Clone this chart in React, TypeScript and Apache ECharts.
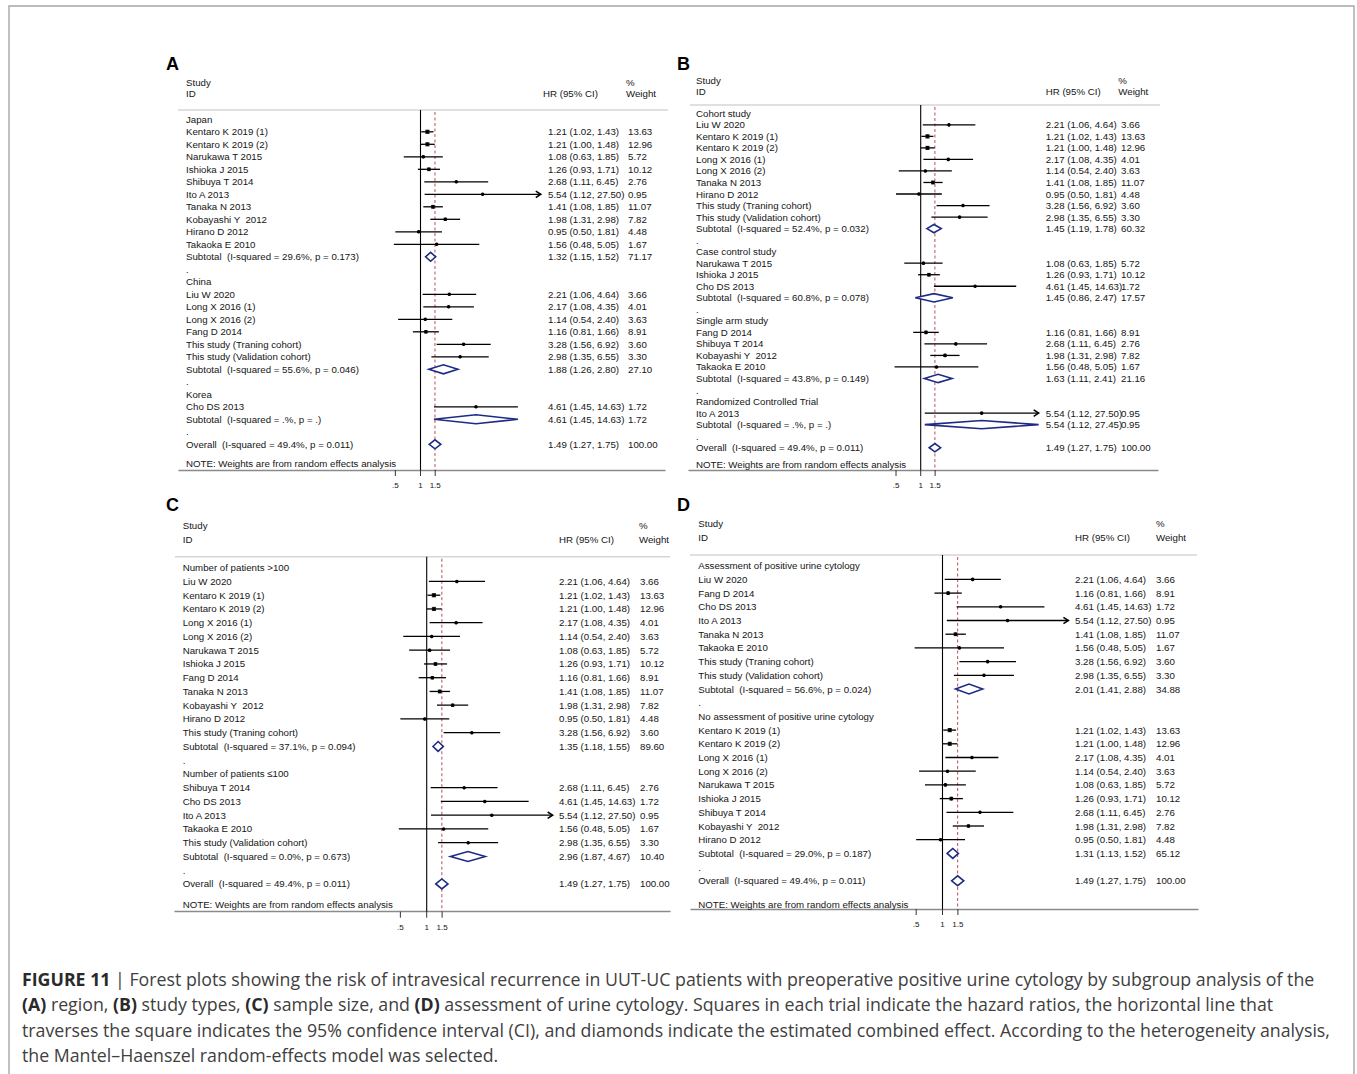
import React, { useEffect, useRef } from "react";
import * as echarts from "echarts";

// ---------------- DATA ----------------
const studyNames = [
  "Liu W 2020",
  "Kentaro K 2019 (1)",
  "Kentaro K 2019 (2)",
  "Long X 2016 (1)",
  "Long X 2016 (2)",
  "Narukawa T 2015",
  "Ishioka J 2015",
  "Fang D 2014",
  "Shibuya T 2014",
  "Cho DS 2013",
  "Ito A 2013",
  "Tanaka N 2013",
  "Kobayashi Y  2012",
  "Hirano D 2012",
  "Takaoka E 2010",
  "This study (Traning cohort)",
  "This study (Validation cohort)",
];
const hazardRatios = [2.21, 1.21, 1.21, 2.17, 1.14, 1.08, 1.26, 1.16, 2.68, 4.61, 5.54, 1.41, 1.98, 0.95, 1.56, 3.28, 2.98];
const lowerCI = [1.06, 1.02, 1.0, 1.08, 0.54, 0.63, 0.93, 0.81, 1.11, 1.45, 1.12, 1.08, 1.31, 0.5, 0.48, 1.56, 1.35];
const upperCI = [4.64, 1.43, 1.48, 4.35, 2.4, 1.85, 1.71, 1.66, 6.45, 14.63, 27.5, 1.85, 2.98, 1.81, 5.05, 6.92, 6.55];
const studyWeights = [3.66, 13.63, 12.96, 4.01, 3.63, 5.72, 10.12, 8.91, 2.76, 1.72, 0.95, 11.07, 7.82, 4.48, 1.67, 3.6, 3.3];

const overallHR = 1.49;
const overallLower = 1.27;
const overallUpper = 1.75;
const overallWeight = 100.0;
const overallISquared = "49.4";
const overallPValue = "0.011";

// Panel A: region
const regionGroups = ["Japan", "China", "Korea"];
const regionMembers = [
  ["Kentaro K 2019 (1)", "Kentaro K 2019 (2)", "Narukawa T 2015", "Ishioka J 2015", "Shibuya T 2014", "Ito A 2013", "Tanaka N 2013", "Kobayashi Y  2012", "Hirano D 2012", "Takaoka E 2010"],
  ["Liu W 2020", "Long X 2016 (1)", "Long X 2016 (2)", "Fang D 2014", "This study (Traning cohort)", "This study (Validation cohort)"],
  ["Cho DS 2013"],
];
const regionSubHR = [1.32, 1.88, 4.61];
const regionSubLower = [1.15, 1.26, 1.45];
const regionSubUpper = [1.52, 2.8, 14.63];
const regionSubWeight = [71.17, 27.1, 1.72];
const regionISquared = ["29.6", "55.6", "."];
const regionPValue = ["0.173", "0.046", "."];

// Panel B: study type
const designGroups = ["Cohort study", "Case control study", "Single arm study", "Randomized Controlled Trial"];
const designMembers = [
  ["Liu W 2020", "Kentaro K 2019 (1)", "Kentaro K 2019 (2)", "Long X 2016 (1)", "Long X 2016 (2)", "Tanaka N 2013", "Hirano D 2012", "This study (Traning cohort)", "This study (Validation cohort)"],
  ["Narukawa T 2015", "Ishioka J 2015", "Cho DS 2013"],
  ["Fang D 2014", "Shibuya T 2014", "Kobayashi Y  2012", "Takaoka E 2010"],
  ["Ito A 2013"],
];
const designSubHR = [1.45, 1.45, 1.63, 5.54];
const designSubLower = [1.19, 0.86, 1.11, 1.12];
const designSubUpper = [1.78, 2.47, 2.41, 27.45];
const designSubWeight = [60.32, 17.57, 21.16, 0.95];
const designISquared = ["52.4", "60.8", "43.8", "."];
const designPValue = ["0.032", "0.078", "0.149", "."];

// Panel C: sample size
const sizeGroups = ["Number of patients >100", "Number of patients \u2264100"];
const sizeMembers = [
  ["Liu W 2020", "Kentaro K 2019 (1)", "Kentaro K 2019 (2)", "Long X 2016 (1)", "Long X 2016 (2)", "Narukawa T 2015", "Ishioka J 2015", "Fang D 2014", "Tanaka N 2013", "Kobayashi Y  2012", "Hirano D 2012", "This study (Traning cohort)"],
  ["Shibuya T 2014", "Cho DS 2013", "Ito A 2013", "Takaoka E 2010", "This study (Validation cohort)"],
];
const sizeSubHR = [1.35, 2.96];
const sizeSubLower = [1.18, 1.87];
const sizeSubUpper = [1.55, 4.67];
const sizeSubWeight = [89.6, 10.4];
const sizeISquared = ["37.1", "0.0"];
const sizePValue = ["0.094", "0.673"];

// Panel D: assessment of urine cytology
const cytologyGroups = ["Assessment of positive urine cytology", "No assessment of positive urine cytology"];
const cytologyMembers = [
  ["Liu W 2020", "Fang D 2014", "Cho DS 2013", "Ito A 2013", "Tanaka N 2013", "Takaoka E 2010", "This study (Traning cohort)", "This study (Validation cohort)"],
  ["Kentaro K 2019 (1)", "Kentaro K 2019 (2)", "Long X 2016 (1)", "Long X 2016 (2)", "Narukawa T 2015", "Ishioka J 2015", "Shibuya T 2014", "Kobayashi Y  2012", "Hirano D 2012"],
];
const cytologySubHR = [2.01, 1.31];
const cytologySubLower = [1.41, 1.13];
const cytologySubUpper = [2.88, 1.52];
const cytologySubWeight = [34.88, 65.12];
const cytologyISquared = ["56.6", "29.0"];
const cytologyPValue = ["0.024", "0.187"];

const xTickValues = [0.5, 1, 1.5];
const xTickLabels = [".5", "1", "1.5"];
const panelLetters = ["A", "B", "C", "D"];
const noteText = "NOTE: Weights are from random effects analysis";
const headerTexts = ["Study", "ID", "HR (95% CI)", "%", "Weight"];

const captionLines = [
  "{b|FIGURE 11} | Forest plots showing the risk of intravesical recurrence in UUT-UC patients with preoperative positive urine cytology by subgroup analysis of the",
  "{b|(A)} region, {b|(B)} study types, {b|(C)} sample size, and {b|(D)} assessment of urine cytology. Squares in each trial indicate the hazard ratios, the horizontal line that",
  "traverses the square indicates the 95% confidence interval (CI), and diamonds indicate the estimated combined effect. According to the heterogeneity analysis,",
  "the Mantel\u2013Haenszel random-effects model was selected.",
];

// ---------------- LAYOUT / STYLE ----------------
const FONT = "'Liberation Sans', Arial, Helvetica, sans-serif";
const CAPTION_FONT = "'Open Sans', 'Liberation Sans', Arial, sans-serif";
const CAPTION_FS = 17.75;
const TABLE_FS = 9.7;
const TEXT_COLOR = "#151515";
const DIAMOND_COLOR = "#1d2b84";
const DASH_COLOR = "#b9505a";
const ARROW_LIMIT = 20;

const panelLayouts = [
  { letterX: 166, letterY: 64, gridLeft: 179, gridRight: 665, gridTop: 110, gridBottom: 470, nullX: 420.5, pxPerLn: 36.3, row0: 119.3, rowStep: 12.5, colStudy: 186, colHR: 548, colWeight: 628, headY1: 82, headY2: 93.5, headHRX: 543, headPctX: 626, sepX1: 178, sepX2: 668, noteRow: 27.5 },
  { letterX: 677, letterY: 63.5, gridLeft: 689, gridRight: 1158, gridTop: 105, gridBottom: 470, nullX: 920.7, pxPerLn: 35.6, row0: 113.3, rowStep: 11.53, colStudy: 696, colHR: 1045.7, colWeight: 1121, headY1: 80, headY2: 91.7, headHRX: 1045.7, headPctX: 1118.3, sepX1: 690, sepX2: 1160, noteRow: 30.44 },
  { letterX: 166, letterY: 504.5, gridLeft: 175, gridRight: 670, gridTop: 556.7, gridBottom: 911.7, nullX: 426.7, pxPerLn: 38, row0: 567.7, rowStep: 13.75, colStudy: 182.7, colHR: 559, colWeight: 640, headY1: 525.7, headY2: 539.3, headHRX: 559, headPctX: 639, sepX1: 175, sepX2: 670, noteRow: 24.53 },
  { letterX: 677, letterY: 505, gridLeft: 691, gridRight: 1198, gridTop: 555, gridBottom: 909, nullX: 942.5, pxPerLn: 38, row0: 565.7, rowStep: 13.7, colStudy: 698.3, colHR: 1075, colWeight: 1156, headY1: 523.3, headY2: 537.7, headHRX: 1075, headPctX: 1156, sepX1: 690, sepX2: 1197, noteRow: 24.7 },
];

type Row = {
  kind: "title" | "study" | "subtotal" | "blank" | "overall";
  label: string;
  row: number;
  est?: number;
  lo?: number;
  hi?: number;
  w?: number;
};

function buildRows(
  groups: string[],
  members: string[][],
  subHR: number[],
  subLo: number[],
  subHi: number[],
  subW: number[],
  isq: string[],
  pv: string[]
): Row[] {
  const rows: Row[] = [];
  let r = 0;
  groups.forEach((g, gi) => {
    rows.push({ kind: "title", label: g, row: r++ });
    members[gi].forEach((name) => {
      const i = studyNames.indexOf(name);
      rows.push({ kind: "study", label: name, row: r++, est: hazardRatios[i], lo: lowerCI[i], hi: upperCI[i], w: studyWeights[i] });
    });
    rows.push({
      kind: "subtotal",
      label: `Subtotal  (I-squared = ${isq[gi]}%, p = ${pv[gi]})`,
      row: r++,
      est: subHR[gi],
      lo: subLo[gi],
      hi: subHi[gi],
      w: subW[gi],
    });
    rows.push({ kind: "blank", label: ".", row: r++ });
  });
  rows.push({
    kind: "overall",
    label: `Overall  (I-squared = ${overallISquared}%, p = ${overallPValue})`,
    row: r++,
    est: overallHR,
    lo: overallLower,
    hi: overallUpper,
    w: overallWeight,
  });
  return rows;
}

function txt(x: number, y: number, s: string, size = TABLE_FS, align = "left", fill = TEXT_COLOR, weight = "normal") {
  return {
    type: "text",
    x,
    y,
    silent: true,
    style: {
      text: s,
      fontSize: size,
      fontFamily: FONT,
      fontWeight: weight,
      fill,
      textAlign: align,
      align,
      textVerticalAlign: "middle",
      verticalAlign: "middle",
    },
  };
}

function fmtCI(est: number, lo: number, hi: number) {
  return `${est.toFixed(2)} (${lo.toFixed(2)}, ${hi.toFixed(2)})`;
}

function buildOption() {
  const panelRows = [
    buildRows(regionGroups, regionMembers, regionSubHR, regionSubLower, regionSubUpper, regionSubWeight, regionISquared, regionPValue),
    buildRows(designGroups, designMembers, designSubHR, designSubLower, designSubUpper, designSubWeight, designISquared, designPValue),
    buildRows(sizeGroups, sizeMembers, sizeSubHR, sizeSubLower, sizeSubUpper, sizeSubWeight, sizeISquared, sizePValue),
    buildRows(cytologyGroups, cytologyMembers, cytologySubHR, cytologySubLower, cytologySubUpper, cytologySubWeight, cytologyISquared, cytologyPValue),
  ];

  const grid: any[] = [];
  const xAxis: any[] = [];
  const yAxis: any[] = [];
  const series: any[] = [];
  const graphic: any[] = [];

  graphic.push({
    type: "rect",
    silent: true,
    shape: { x: 9, y: 6, width: 1345, height: 1120 },
    style: { fill: "none", stroke: "#a6a6a6", lineWidth: 1.4 },
  });

  panelLayouts.forEach((L, i) => {
    const rows = panelRows[i];
    const yMin = (L.gridTop - L.row0) / L.rowStep;
    const yMax = (L.gridBottom - L.row0) / L.rowStep;
    grid.push({ left: L.gridLeft, top: L.gridTop, width: L.gridRight - L.gridLeft, height: L.gridBottom - L.gridTop, containLabel: false });
    xAxis.push({
      type: "log",
      gridIndex: i,
      min: Math.exp((L.gridLeft - L.nullX) / L.pxPerLn),
      max: Math.exp((L.gridRight - L.nullX) / L.pxPerLn),
      axisLine: { show: true, onZero: false, lineStyle: { color: "#8a8a8a", width: 1.4 } },
      axisTick: { show: false },
      axisLabel: { show: false },
      splitLine: { show: false },
    });
    yAxis.push({ type: "value", gridIndex: i, inverse: true, min: yMin, max: yMax, show: false });

    const renderItem = (params: any, api: any) => {
      const r = rows[params.dataIndex];
      const y = api.coord([1, r.row])[1];
      const children: any[] = [];
      children.push(txt(L.colStudy, y, r.label));
      if (r.est !== undefined) {
        children.push(txt(L.colHR, y, fmtCI(r.est, r.lo!, r.hi!)));
        children.push(txt(L.colWeight, y, r.w!.toFixed(2)));
        const xl = api.coord([r.lo, r.row])[0];
        const xh = api.coord([r.hi, r.row])[0];
        const xe = api.coord([r.est, r.row])[0];
        if (r.kind === "study") {
          children.push({ type: "line", shape: { x1: xl, y1: y, x2: xh, y2: y }, style: { stroke: "#000", lineWidth: 1.3 } });
          if (r.hi! > ARROW_LIMIT) {
            children.push({
              type: "polyline",
              shape: { points: [[xh - 5, y - 3.2], [xh, y], [xh - 5, y + 3.2]] },
              style: { stroke: "#000", fill: "none", lineWidth: 1.5 },
            });
          }
          const side = 1.15 * Math.sqrt(r.w!);
          children.push({ type: "rect", shape: { x: xe - side / 2, y: y - side / 2, width: side, height: side }, style: { fill: "#333" } });
          children.push({ type: "circle", shape: { cx: xe, cy: y, r: 1.8 }, style: { fill: "#000" } });
        } else {
          const h = L.rowStep * 0.36;
          children.push({
            type: "polygon",
            shape: { points: [[xl, y], [xe, y - h], [xh, y], [xe, y + h]] },
            style: { fill: "#fff", stroke: DIAMOND_COLOR, lineWidth: 1.6 },
          });
        }
      }
      if (params.dataIndex === 0) {
        const top = api.coord([1, yMin])[1];
        const bottom = api.coord([1, yMax])[1];
        const x1 = api.coord([1, yMax])[0];
        const xo = api.coord([overallHR, yMax])[0];
        children.push({ type: "line", z2: -1, shape: { x1: x1, y1: top, x2: x1, y2: bottom }, style: { stroke: "#000", lineWidth: 1.1 } });
        children.push({ type: "line", z2: -1, shape: { x1: xo, y1: top + 2, x2: xo, y2: bottom }, style: { stroke: DASH_COLOR, lineWidth: 1, lineDash: [3, 2.5] } });
        xTickValues.forEach((v, k) => {
          const tx = api.coord([v, yMax])[0];
          children.push({ type: "line", shape: { x1: tx, y1: bottom, x2: tx, y2: bottom + 6 }, style: { stroke: "#333", lineWidth: 1 } });
          children.push(txt(tx, bottom + 15.5, xTickLabels[k], 8, "center"));
        });
        const ny = api.coord([1, L.noteRow])[1];
        children.push(txt(L.colStudy, ny, noteText));
      }
      return { type: "group", children };
    };

    series.push({
      type: "custom",
      xAxisIndex: i,
      yAxisIndex: i,
      clip: false,
      silent: true,
      encode: { x: 0, y: 1 },
      data: rows.map((r) => [r.est !== undefined ? r.est : 1, r.row]),
      renderItem,
    });

    graphic.push(txt(L.letterX, L.letterY, panelLetters[i], 18, "left", "#000", "bold"));
    graphic.push(txt(L.colStudy, L.headY1, headerTexts[0]));
    graphic.push(txt(L.colStudy, L.headY2, headerTexts[1]));
    graphic.push(txt(L.headHRX, L.headY2, headerTexts[2]));
    graphic.push(txt(L.headPctX, L.headY1, headerTexts[3]));
    graphic.push(txt(L.headPctX, L.headY2, headerTexts[4]));
    graphic.push({
      type: "line",
      silent: true,
      shape: { x1: L.sepX1, y1: L.gridTop, x2: L.sepX2, y2: L.gridTop },
      style: { stroke: "#d6d6d6", lineWidth: 1.5 },
    });
  });

  const captionY = [979, 1004, 1029.5, 1055];
  captionLines.forEach((line, k) => {
    graphic.push({
      type: "text",
      x: 22,
      y: captionY[k],
      silent: true,
      style: {
        text: line,
        fontSize: CAPTION_FS,
        fontFamily: CAPTION_FONT,
        fill: "#404040",
        textAlign: "left",
        align: "left",
        textVerticalAlign: "middle",
        verticalAlign: "middle",
        rich: {
          b: { fontSize: CAPTION_FS, fontFamily: CAPTION_FONT, fontWeight: "bold", fill: "#2a2a2a", font: `bold ${CAPTION_FS}px ${CAPTION_FONT}` },
        },
      },
    });
  });

  return {
    animation: false,
    backgroundColor: "#ffffff",
    grid,
    xAxis,
    yAxis,
    series,
    graphic,
  };
}

export default function App() {
  const ref = useRef<HTMLDivElement>(null);
  useEffect(() => {
    if (!ref.current) return;
    const chart = echarts.init(ref.current, null, { renderer: "svg" });
    chart.setOption(buildOption() as any);
    return () => {
      chart.dispose();
    };
  }, []);
  return (
    <div
      ref={ref}
      style={{ position: "absolute", left: 0, top: 0, width: 1357, height: 1074, background: "#fff" }}
    />
  );
}
